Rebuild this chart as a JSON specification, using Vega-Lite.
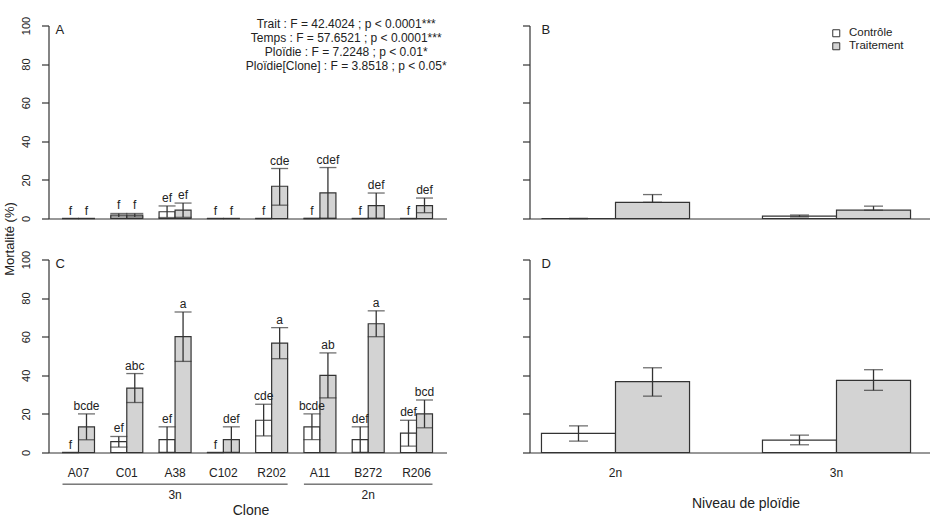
{
  "$schema": "https://vega.github.io/schema/vega-lite/v6.json",
  "padding": {"left": 3.5, "top": 15.5, "right": 0, "bottom": 0},
  "background": "white",
  "config": {
    "view": {"stroke": null},
    "font": "Liberation Sans",
    "axis": {"domainColor": "#333", "tickColor": "#333", "labelColor": "#222", "titleColor": "#222", "labelFont": "Liberation Sans", "titleFont": "Liberation Sans", "grid": false, "domainWidth": 1.2, "tickWidth": 1.2, "titleFontWeight": "normal", "labelOverlap": false, "labelBound": false, "labelFlush": false},
    "text": {"font": "Liberation Sans", "color": "#222"}
  },
  "datasets": {
    "clones": [
      {"panel": "A", "clone": "A07", "trt": "Contrôle", "mean": 0, "lo": 0, "hi": 0, "letter": "f"},
      {"panel": "A", "clone": "A07", "trt": "Traitement", "mean": 0, "lo": 0, "hi": 0, "letter": "f"},
      {"panel": "A", "clone": "C01", "trt": "Contrôle", "mean": 1.7, "lo": 0.8, "hi": 2.6, "letter": "f"},
      {"panel": "A", "clone": "C01", "trt": "Traitement", "mean": 1.7, "lo": 0.8, "hi": 2.6, "letter": "f"},
      {"panel": "A", "clone": "A38", "trt": "Contrôle", "mean": 3.5, "lo": 0.5, "hi": 6.5, "letter": "ef"},
      {"panel": "A", "clone": "A38", "trt": "Traitement", "mean": 4.3, "lo": 0.6, "hi": 8.0, "letter": "ef"},
      {"panel": "A", "clone": "C102", "trt": "Contrôle", "mean": 0, "lo": 0, "hi": 0, "letter": "f"},
      {"panel": "A", "clone": "C102", "trt": "Traitement", "mean": 0, "lo": 0, "hi": 0, "letter": "f"},
      {"panel": "A", "clone": "R202", "trt": "Contrôle", "mean": 0, "lo": 0, "hi": 0, "letter": "f"},
      {"panel": "A", "clone": "R202", "trt": "Traitement", "mean": 16.7, "lo": 6.9, "hi": 25.9, "letter": "cde"},
      {"panel": "A", "clone": "A11", "trt": "Contrôle", "mean": 0, "lo": 0, "hi": 0, "letter": "f"},
      {"panel": "A", "clone": "A11", "trt": "Traitement", "mean": 13.3, "lo": 0.2, "hi": 26.4, "letter": "cdef"},
      {"panel": "A", "clone": "B272", "trt": "Contrôle", "mean": 0, "lo": 0, "hi": 0, "letter": "f"},
      {"panel": "A", "clone": "B272", "trt": "Traitement", "mean": 6.7, "lo": 0.2, "hi": 13.2, "letter": "def"},
      {"panel": "A", "clone": "R206", "trt": "Contrôle", "mean": 0, "lo": 0, "hi": 0, "letter": "f"},
      {"panel": "A", "clone": "R206", "trt": "Traitement", "mean": 6.7, "lo": 3.0, "hi": 10.6, "letter": "def"},
      {"panel": "C", "clone": "A07", "trt": "Contrôle", "mean": 0, "lo": 0, "hi": 0, "letter": "f"},
      {"panel": "C", "clone": "A07", "trt": "Traitement", "mean": 13.3, "lo": 6.6, "hi": 20.0, "letter": "bcde"},
      {"panel": "C", "clone": "C01", "trt": "Contrôle", "mean": 5.6, "lo": 2.8, "hi": 8.3, "letter": "ef"},
      {"panel": "C", "clone": "C01", "trt": "Traitement", "mean": 33.4, "lo": 25.9, "hi": 40.9, "letter": "abc"},
      {"panel": "C", "clone": "A38", "trt": "Contrôle", "mean": 6.7, "lo": 0.1, "hi": 13.3, "letter": "ef"},
      {"panel": "C", "clone": "A38", "trt": "Traitement", "mean": 60.0, "lo": 47.2, "hi": 72.8, "letter": "a"},
      {"panel": "C", "clone": "C102", "trt": "Contrôle", "mean": 0, "lo": 0, "hi": 0, "letter": "f"},
      {"panel": "C", "clone": "C102", "trt": "Traitement", "mean": 6.7, "lo": 0.1, "hi": 13.3, "letter": "def"},
      {"panel": "C", "clone": "R202", "trt": "Contrôle", "mean": 16.7, "lo": 8.6, "hi": 25.0, "letter": "cde"},
      {"panel": "C", "clone": "R202", "trt": "Traitement", "mean": 56.7, "lo": 48.6, "hi": 64.7, "letter": "a"},
      {"panel": "C", "clone": "A11", "trt": "Contrôle", "mean": 13.3, "lo": 6.7, "hi": 20.0, "letter": "bcde"},
      {"panel": "C", "clone": "A11", "trt": "Traitement", "mean": 40.0, "lo": 28.3, "hi": 51.6, "letter": "ab"},
      {"panel": "C", "clone": "B272", "trt": "Contrôle", "mean": 6.7, "lo": 0.1, "hi": 13.3, "letter": "def"},
      {"panel": "C", "clone": "B272", "trt": "Traitement", "mean": 66.7, "lo": 60.0, "hi": 73.4, "letter": "a"},
      {"panel": "C", "clone": "R206", "trt": "Contrôle", "mean": 10.0, "lo": 3.3, "hi": 16.7, "letter": "def"},
      {"panel": "C", "clone": "R206", "trt": "Traitement", "mean": 20.0, "lo": 12.8, "hi": 27.2, "letter": "bcd"}
    ],
    "ploidy": [
      {"panel": "B", "ploidy": "2n", "trt": "Contrôle", "mean": 0, "lo": 0, "hi": 0},
      {"panel": "B", "ploidy": "2n", "trt": "Traitement", "mean": 8.4, "lo": 8.4, "hi": 12.4},
      {"panel": "B", "ploidy": "3n", "trt": "Contrôle", "mean": 1.2, "lo": 0.8, "hi": 1.8},
      {"panel": "B", "ploidy": "3n", "trt": "Traitement", "mean": 4.3, "lo": 4.3, "hi": 6.4},
      {"panel": "D", "ploidy": "2n", "trt": "Contrôle", "mean": 9.9, "lo": 5.9, "hi": 13.8},
      {"panel": "D", "ploidy": "2n", "trt": "Traitement", "mean": 36.7, "lo": 29.2, "hi": 43.9},
      {"panel": "D", "ploidy": "3n", "trt": "Contrôle", "mean": 6.4, "lo": 4.0, "hi": 9.0},
      {"panel": "D", "ploidy": "3n", "trt": "Traitement", "mean": 37.4, "lo": 32.2, "hi": 42.9}
    ],
    "groups": [
      {"ploidy": "3n", "first": "A07", "last": "R202", "mid": "A38"},
      {"ploidy": "2n", "first": "A11", "last": "R206", "mid": "B272"}
    ],
    "panels": [
      {"panel": "A"}, {"panel": "B"}, {"panel": "C"}, {"panel": "D"}
    ]
  },
  "columns": 2,
  "spacing": {"row": 41, "column": 83},
  "bounds": "flush",
  "resolve": {"scale": {"fill": "independent", "xOffset": "independent"}, "legend": {"fill": "independent"}},
  "concat": [
    {
      "width": 398, "height": 193,
      "layer": [
        {
          "data": {"name": "clones"},
          "transform": [{"filter": "datum.panel == 'A'"}],
          "layer": [
            {
              "mark": {"type": "bar", "stroke": "#333", "strokeWidth": 1.2},
              "encoding": {
                "x": {"field": "clone", "type": "nominal", "sort": null, "scale": {"domain": ["A07", "C01", "A38", "C102", "R202", "A11", "B272", "R206"], "paddingInner": 0.3375, "paddingOuter": 0.29}, "axis": {"title": null, "labels": false, "ticks": false}},
                "xOffset": {"field": "trt", "type": "nominal", "scale": {"domain": ["Contrôle", "Traitement"], "paddingInner": 0, "paddingOuter": 0}},
                "y": {"field": "mean", "type": "quantitative", "scale": {"domain": [0, 100]}, "axis": {"values": [0, 20, 40, 60, 80, 100], "tickCount": 12, "title": "Mortalité (%)", "titleX": -39, "titleY": 213, "titleAngle": 270, "titleAlign": "center", "titleBaseline": "middle", "titleFontSize": 13, "labelAngle": 270, "labelAlign": "center", "labelBaseline": "alphabetic", "labelPadding": 12, "tickSize": 7, "labelFontSize": 11}},
                "fill": {"field": "trt", "type": "nominal", "scale": {"domain": ["Contrôle", "Traitement"], "range": ["#ffffff", "#d3d3d3"]}, "legend": null}
              }
            },
            {
              "mark": {"type": "rule", "color": "#333", "strokeWidth": 1.3},
              "encoding": {
                "x": {"field": "clone", "type": "nominal"},
                "xOffset": {"field": "trt", "type": "nominal"},
                "y": {"field": "lo", "type": "quantitative"},
                "y2": {"field": "hi"}
              }
            },
            {
              "mark": {"type": "tick", "color": "#333", "size": 17, "thickness": 1.3},
              "encoding": {
                "x": {"field": "clone", "type": "nominal"},
                "xOffset": {"field": "trt", "type": "nominal"},
                "y": {"field": "hi", "type": "quantitative"}
              }
            },
            {
              "mark": {"type": "tick", "color": "#333", "size": 17, "thickness": 1.3},
              "encoding": {
                "x": {"field": "clone", "type": "nominal"},
                "xOffset": {"field": "trt", "type": "nominal"},
                "y": {"field": "lo", "type": "quantitative"}
              }
            },
            {
              "mark": {"type": "text", "dy": -4, "baseline": "alphabetic", "fontSize": 12},
              "encoding": {
                "x": {"field": "clone", "type": "nominal"},
                "xOffset": {"field": "trt", "type": "nominal"},
                "y": {"field": "hi", "type": "quantitative"},
                "text": {"field": "letter"}
              }
            }
          ]
        },
        {
          "data": {"name": "panels"},
          "transform": [{"filter": "datum.panel == 'A'"}],
          "mark": {"type": "text", "align": "left", "baseline": "middle", "fontSize": 13, "dx": -7},
          "encoding": {
            "x": {"datum": "A07", "type": "nominal", "bandPosition": 0},
            "y": {"datum": 97.5, "type": "quantitative"},
            "text": {"field": "panel"}
          }
        },
        {
          "data": {"values": [{"note": "anova"}]},
          "mark": {"type": "text", "text": ["Trait : F = 42.4024 ; p < 0.0001***", "Temps : F = 57.6521 ; p < 0.0001***", "Ploïdie : F = 7.2248 ; p < 0.01*", "Ploïdie[Clone] : F = 3.8518 ; p < 0.05*"], "align": "center", "baseline": "alphabetic", "fontSize": 12, "lineHeight": 13.9, "dx": -6},
          "encoding": {
            "x": {"datum": "B272", "type": "nominal", "bandPosition": 0},
            "y": {"datum": 98.5, "type": "quantitative"}
          }
        }
      ]
    },
    {
      "width": 400, "height": 193,
      "layer": [
        {
          "data": {"name": "ploidy"},
          "transform": [{"filter": "datum.panel == 'B'"}],
          "layer": [
            {
              "mark": {"type": "bar", "stroke": "#333", "strokeWidth": 1.2},
              "encoding": {
                "x": {"field": "ploidy", "type": "nominal", "sort": null, "scale": {"domain": ["2n", "3n"], "paddingInner": 0.33, "paddingOuter": 0.07, "align": 0.387}, "axis": {"title": null, "labels": false, "ticks": false}},
                "xOffset": {"field": "trt", "type": "nominal", "scale": {"domain": ["Contrôle", "Traitement"], "paddingInner": 0, "paddingOuter": 0}},
                "y": {"field": "mean", "type": "quantitative", "scale": {"domain": [0, 100]}, "axis": {"values": [0, 20, 40, 60, 80, 100], "tickCount": 12, "title": null, "labels": false, "tickSize": 7}},
                "fill": {"field": "trt", "type": "nominal", "scale": {"domain": ["Contrôle", "Traitement"], "range": ["#ffffff", "#d3d3d3"]}, "legend": {"orient": "none", "legendX": 301, "legendY": 2, "title": null, "padding": 0, "symbolType": "square", "symbolSize": 49, "symbolStrokeColor": "#333", "symbolStrokeWidth": 1, "labelFont": "Liberation Sans", "labelFontSize": 11.5, "labelColor": "#222", "labelOffset": 7, "rowPadding": 0}}
              }
            },
            {
              "mark": {"type": "rule", "color": "#333", "strokeWidth": 1.3},
              "encoding": {
                "x": {"field": "ploidy", "type": "nominal"},
                "xOffset": {"field": "trt", "type": "nominal"},
                "y": {"field": "lo", "type": "quantitative"},
                "y2": {"field": "hi"}
              }
            },
            {
              "mark": {"type": "tick", "color": "#333", "size": 19, "thickness": 1.3},
              "encoding": {
                "x": {"field": "ploidy", "type": "nominal"},
                "xOffset": {"field": "trt", "type": "nominal"},
                "y": {"field": "hi", "type": "quantitative"}
              }
            },
            {
              "mark": {"type": "tick", "color": "#333", "size": 19, "thickness": 1.3},
              "encoding": {
                "x": {"field": "ploidy", "type": "nominal"},
                "xOffset": {"field": "trt", "type": "nominal"},
                "y": {"field": "lo", "type": "quantitative"}
              }
            }
          ]
        },
        {
          "data": {"name": "panels"},
          "transform": [{"filter": "datum.panel == 'B'"}],
          "mark": {"type": "text", "align": "left", "baseline": "middle", "fontSize": 13},
          "encoding": {
            "x": {"datum": "2n", "type": "nominal", "bandPosition": 0},
            "y": {"datum": 97.5, "type": "quantitative"},
            "text": {"field": "panel"}
          }
        }
      ]
    },
    {
      "width": 398, "height": 193,
      "layer": [
        {
          "data": {"name": "clones"},
          "transform": [{"filter": "datum.panel == 'C'"}],
          "layer": [
            {
              "mark": {"type": "bar", "stroke": "#333", "strokeWidth": 1.2},
              "encoding": {
                "x": {"field": "clone", "type": "nominal", "sort": null, "scale": {"domain": ["A07", "C01", "A38", "C102", "R202", "A11", "B272", "R206"], "paddingInner": 0.3375, "paddingOuter": 0.29}, "axis": {"title": "Clone", "titleFontSize": 14, "titleX": 202, "titleY": 62, "titleBaseline": "alphabetic", "titleAlign": "center", "labels": true, "ticks": false, "tickSize": 0, "labelPadding": 15, "labelAngle": 0, "labelFontSize": 12, "labelBaseline": "top"}},
                "xOffset": {"field": "trt", "type": "nominal", "scale": {"domain": ["Contrôle", "Traitement"], "paddingInner": 0, "paddingOuter": 0}},
                "y": {"field": "mean", "type": "quantitative", "scale": {"domain": [0, 100]}, "axis": {"values": [0, 20, 40, 60, 80, 100], "tickCount": 12, "title": null, "labelAngle": 270, "labelAlign": "center", "labelBaseline": "alphabetic", "labelPadding": 12, "tickSize": 7, "labelFontSize": 11}},
                "fill": {"field": "trt", "type": "nominal", "scale": {"domain": ["Contrôle", "Traitement"], "range": ["#ffffff", "#d3d3d3"]}, "legend": null}
              }
            },
            {
              "mark": {"type": "rule", "color": "#333", "strokeWidth": 1.3},
              "encoding": {
                "x": {"field": "clone", "type": "nominal"},
                "xOffset": {"field": "trt", "type": "nominal"},
                "y": {"field": "lo", "type": "quantitative"},
                "y2": {"field": "hi"}
              }
            },
            {
              "mark": {"type": "tick", "color": "#333", "size": 17, "thickness": 1.3},
              "encoding": {
                "x": {"field": "clone", "type": "nominal"},
                "xOffset": {"field": "trt", "type": "nominal"},
                "y": {"field": "hi", "type": "quantitative"}
              }
            },
            {
              "mark": {"type": "tick", "color": "#333", "size": 17, "thickness": 1.3},
              "encoding": {
                "x": {"field": "clone", "type": "nominal"},
                "xOffset": {"field": "trt", "type": "nominal"},
                "y": {"field": "lo", "type": "quantitative"}
              }
            },
            {
              "mark": {"type": "text", "dy": -4, "baseline": "alphabetic", "fontSize": 12},
              "encoding": {
                "x": {"field": "clone", "type": "nominal"},
                "xOffset": {"field": "trt", "type": "nominal"},
                "y": {"field": "hi", "type": "quantitative"},
                "text": {"field": "letter"}
              }
            }
          ]
        },
        {
          "data": {"name": "groups"},
          "layer": [
            {
              "mark": {"type": "rule", "color": "#333", "strokeWidth": 1},
              "encoding": {
                "x": {"field": "first", "type": "nominal", "bandPosition": 0},
                "x2": {"field": "last", "bandPosition": 1},
                "y": {"datum": -16.4, "type": "quantitative"}
              }
            },
            {
              "mark": {"type": "text", "fontSize": 12, "baseline": "alphabetic"},
              "encoding": {
                "x": {"field": "mid", "type": "nominal"},
                "y": {"datum": -24.1, "type": "quantitative"},
                "text": {"field": "ploidy"}
              }
            }
          ]
        },
        {
          "data": {"name": "panels"},
          "transform": [{"filter": "datum.panel == 'C'"}],
          "mark": {"type": "text", "align": "left", "baseline": "middle", "fontSize": 13, "dx": -7},
          "encoding": {
            "x": {"datum": "A07", "type": "nominal", "bandPosition": 0},
            "y": {"datum": 97.5, "type": "quantitative"},
            "text": {"field": "panel"}
          }
        }
      ]
    },
    {
      "width": 400, "height": 193,
      "layer": [
        {
          "data": {"name": "ploidy"},
          "transform": [{"filter": "datum.panel == 'D'"}],
          "layer": [
            {
              "mark": {"type": "bar", "stroke": "#333", "strokeWidth": 1.2},
              "encoding": {
                "x": {"field": "ploidy", "type": "nominal", "sort": null, "scale": {"domain": ["2n", "3n"], "paddingInner": 0.33, "paddingOuter": 0.07, "align": 0.387}, "axis": {"title": "Niveau de ploïdie", "titleFontSize": 14, "titleX": 216, "titleY": 55, "titleBaseline": "alphabetic", "titleAlign": "center", "labels": true, "ticks": false, "tickSize": 0, "labelPadding": 15, "labelAngle": 0, "labelFontSize": 12, "labelBaseline": "top"}},
                "xOffset": {"field": "trt", "type": "nominal", "scale": {"domain": ["Contrôle", "Traitement"], "paddingInner": 0, "paddingOuter": 0}},
                "y": {"field": "mean", "type": "quantitative", "scale": {"domain": [0, 100]}, "axis": {"values": [0, 20, 40, 60, 80, 100], "tickCount": 12, "title": null, "labels": false, "tickSize": 7}},
                "fill": {"field": "trt", "type": "nominal", "scale": {"domain": ["Contrôle", "Traitement"], "range": ["#ffffff", "#d3d3d3"]}, "legend": null}
              }
            },
            {
              "mark": {"type": "rule", "color": "#333", "strokeWidth": 1.3},
              "encoding": {
                "x": {"field": "ploidy", "type": "nominal"},
                "xOffset": {"field": "trt", "type": "nominal"},
                "y": {"field": "lo", "type": "quantitative"},
                "y2": {"field": "hi"}
              }
            },
            {
              "mark": {"type": "tick", "color": "#333", "size": 19, "thickness": 1.3},
              "encoding": {
                "x": {"field": "ploidy", "type": "nominal"},
                "xOffset": {"field": "trt", "type": "nominal"},
                "y": {"field": "hi", "type": "quantitative"}
              }
            },
            {
              "mark": {"type": "tick", "color": "#333", "size": 19, "thickness": 1.3},
              "encoding": {
                "x": {"field": "ploidy", "type": "nominal"},
                "xOffset": {"field": "trt", "type": "nominal"},
                "y": {"field": "lo", "type": "quantitative"}
              }
            }
          ]
        },
        {
          "data": {"name": "panels"},
          "transform": [{"filter": "datum.panel == 'D'"}],
          "mark": {"type": "text", "align": "left", "baseline": "middle", "fontSize": 13},
          "encoding": {
            "x": {"datum": "2n", "type": "nominal", "bandPosition": 0},
            "y": {"datum": 97.5, "type": "quantitative"},
            "text": {"field": "panel"}
          }
        }
      ]
    }
  ]
}
